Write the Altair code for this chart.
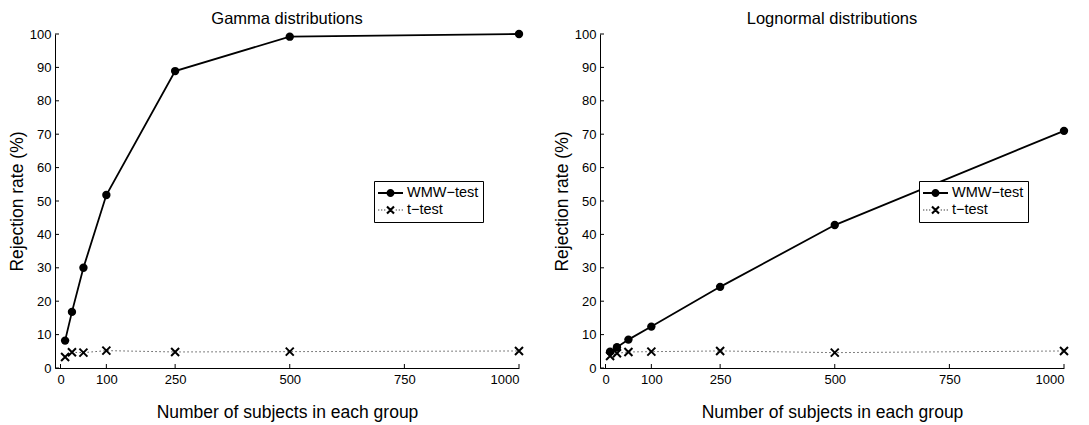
import altair as alt
import pandas as pd

# ---- data ----
n_subjects = [10, 25, 50, 100, 250, 500, 1000]
gamma_wmw = [8.2, 16.8, 30.0, 51.8, 88.9, 99.2, 100.0]
gamma_t = [3.3, 4.7, 4.6, 5.2, 4.8, 4.9, 5.1]
lognormal_wmw = [4.9, 6.2, 8.5, 12.4, 24.3, 42.8, 71.0]
lognormal_t = [3.6, 4.4, 4.8, 4.9, 5.1, 4.6, 5.1]
x_ticks = [0, 100, 250, 500, 750, 1000]
y_ticks = [0, 10, 20, 30, 40, 50, 60, 70, 80, 90, 100]
series_names = ["WMW\u2212test", "t\u2212test"]
panel_titles = ["Gamma distributions", "Lognormal distributions"]
x_title = "Number of subjects in each group"
y_title = "Rejection rate (%)"

FONT = "Liberation Sans"
W, H = 464, 334

X_MARK = "M-1,-1L1,1M-1,1L1,-1"
# legend symbols (unit square -1..1), all filled
LEG_WMW = ("M-1,-0.08H-0.3V0.08H-1Z"
           "M0.3,-0.08H1V0.08H0.3Z"
           "M-0.32,0A0.32,0.32 0 1,1 0.32,0A0.32,0.32 0 1,1 -0.32,0Z")
_dots = "".join(f"M{x},-0.04h0.08v0.08h-0.08Z" for x in [-0.98, -0.74, -0.5, 0.42, 0.66, 0.9])
LEG_T = (_dots +
         "M-0.22,-0.34L0.34,0.22L0.22,0.34L-0.34,-0.22Z"
         "M-0.34,0.22L0.22,-0.34L0.34,-0.22L-0.22,0.34Z")


def panel(title, wmw, tt):
    df_w = pd.DataFrame({"n": n_subjects, "rate": wmw})
    df_t = pd.DataFrame({"n": n_subjects, "rate": tt})
    xt = pd.DataFrame({"n": x_ticks})
    yt = pd.DataFrame({"rate": y_ticks})
    leg = pd.DataFrame({"series": series_names, "n": [0, 0], "rate": [0, 0]})

    x_enc = alt.X("n:Q", scale=alt.Scale(domain=[-12, 1000], nice=False, zero=False),
                  axis=alt.Axis(values=x_ticks, format="d", ticks=False, grid=False,
                                title=x_title, titlePadding=17, labelPadding=5))
    y_enc = alt.Y("rate:Q", scale=alt.Scale(domain=[0, 100], nice=False),
                  axis=alt.Axis(values=y_ticks, ticks=False, grid=False,
                                title=y_title, titlePadding=3, labelPadding=4))

    wmw_line = alt.Chart(df_w).mark_line(color="black", strokeWidth=1.8).encode(x=x_enc, y=y_enc)
    wmw_pts = alt.Chart(df_w).mark_point(shape="circle", filled=True, size=70,
                                         color="black", opacity=1).encode(x=x_enc, y=y_enc)
    t_line = alt.Chart(df_t).mark_line(color="black", strokeWidth=1,
                                       strokeDash=[1, 3]).encode(x=x_enc, y=y_enc)
    t_pts = alt.Chart(df_t).mark_point(shape=X_MARK, size=64, strokeWidth=2,
                                       color="black", opacity=1).encode(x=x_enc, y=y_enc)
    xtick = alt.Chart(xt).mark_rule(color="black", strokeWidth=1).encode(
        x=x_enc, y=alt.value(H), y2=alt.value(H - 4))
    ytick = alt.Chart(yt).mark_rule(color="black", strokeWidth=1).encode(
        y=y_enc, x=alt.value(0), x2=alt.value(4))
    legend_layer = alt.Chart(leg).transform_filter("false").mark_point(
        filled=True, color="black", opacity=1).encode(
        x=x_enc, y=y_enc,
        shape=alt.Shape("series:N",
                        scale=alt.Scale(domain=series_names, range=[LEG_WMW, LEG_T]),
                        legend=alt.Legend(orient="none", legendX=319, legendY=147,
                                          title=None, strokeColor="black", fillColor="white",
                                          padding=4, symbolSize=625, clipHeight=16,
                                          symbolFillColor="black", symbolStrokeWidth=0,
                                          symbolOpacity=1,
                                          labelFontSize=14.5, labelFont=FONT, labelColor="black",
                                          labelOffset=4, rowPadding=1, symbolOffset=0)))
    return alt.layer(t_line, wmw_line, wmw_pts, t_pts, xtick, ytick, legend_layer).properties(
        width=W, height=H,
        title=alt.Title(title, fontSize=16.5, fontWeight="normal", font=FONT, color="black", offset=1))


left = panel(panel_titles[0], gamma_wmw, gamma_t)
right = panel(panel_titles[1], lognormal_wmw, lognormal_t)

chart = alt.hconcat(left, right, spacing=26).resolve_scale(
    shape="independent").resolve_legend(shape="independent").properties(
    padding={"left": 0, "top": 2, "right": 5, "bottom": 5}
).configure(font=FONT).configure_view(stroke=None).configure_axis(
    domainColor="black", domainWidth=1, labelColor="black", labelFont=FONT, labelFontSize=13,
    titleFont=FONT, titleFontSize=17.5, titleFontWeight="normal", titleColor="black"
)

chart.save("out.html", embed_options={"renderer": "svg", "actions": False})
